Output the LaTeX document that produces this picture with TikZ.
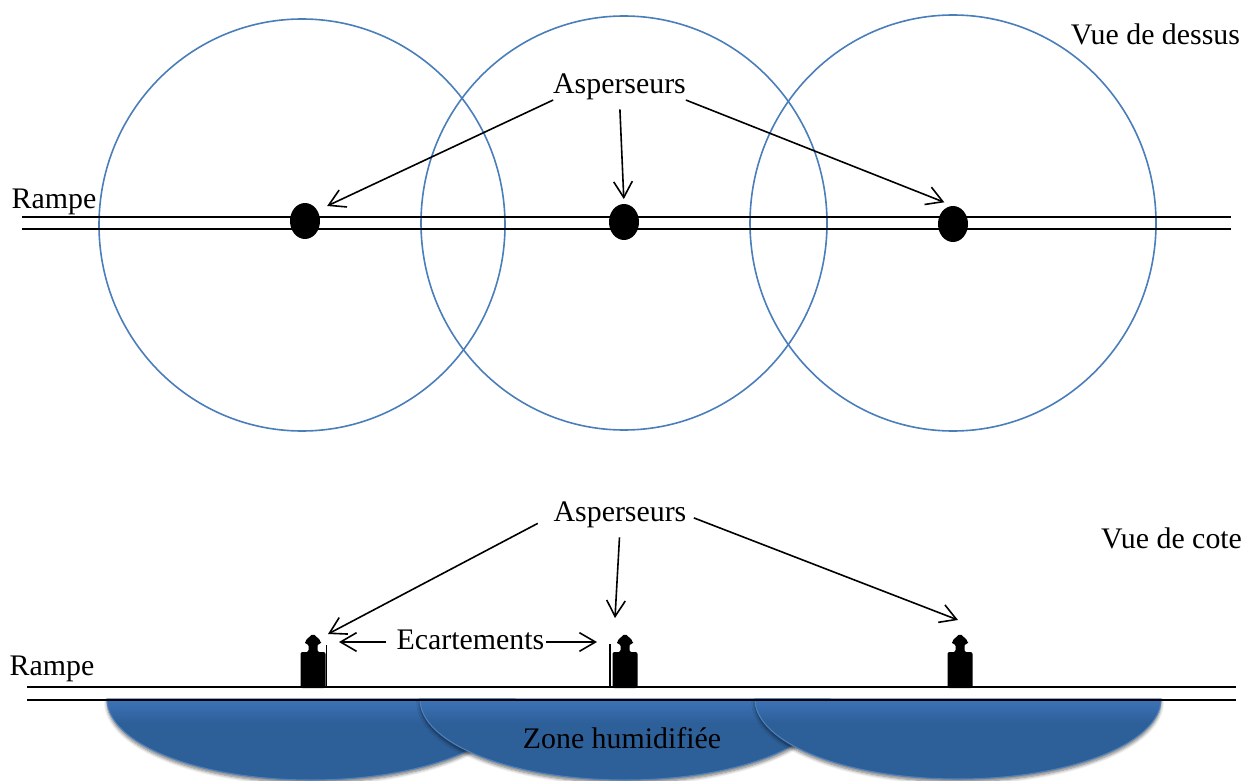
\documentclass[tikz,border=0pt]{standalone}
\usepackage{fontspec}
\setmainfont{Liberation Serif}
\usetikzlibrary{shapes.geometric}
\usetikzlibrary{arrows.meta}
\usetikzlibrary{shadows.blur}

\definecolor{circleblue}{RGB}{74,126,187}
\definecolor{waterlight}{RGB}{61,115,184}
\definecolor{waterdark}{RGB}{45,95,153}
\definecolor{wateredge}{RGB}{79,129,189}

\pgfdeclareverticalshading{watershade}{100bp}{color(0bp)=(waterdark); color(60bp)=(waterdark); color(75bp)=(waterlight); color(100bp)=(waterlight)}

\tikzset{
  label/.style={font=\fontsize{22.4}{26}\selectfont, inner sep=0pt, outer sep=0pt},
  ramp/.style={line width=1.3pt},
  wetted/.style={draw=circleblue, line width=1.2pt},
  nozzle/.style={ellipse, fill=black, inner sep=0pt, minimum width=22.5pt, minimum height=27pt},
  pointer/.style={line width=1.2pt, -{Straight Barb[length=12pt,width=14pt,line width=1.2pt]}},
  water/.style={shading=watershade, draw=wateredge, line width=0.8pt,
    blur shadow={shadow xshift=0pt, shadow yshift=-2pt, shadow blur radius=2.5pt, shadow blur steps=6, shadow opacity=55}},
}

\newcommand{\sprinkler}[1]{%
  \fill [shift={(#1)}, rounded corners=1.5pt] (-12.5,0) -- (-12.5,-36) -- (-4.5,-36) -- (-4.5,-44) -- (-8,-44) -- (-8,-47) -- (0,-54.5) -- (8,-47) -- (8,-44) -- (4.5,-44) -- (4.5,-36) -- (12.5,-36) -- (12.5,0) -- cycle ;
}

\begin{document}
\begin{tikzpicture}[x=0.75pt,y=0.75pt,yscale=-1,xscale=1]
\useasboundingbox (0,0) rectangle (1242,781);

%Top view: circles
\draw [wetted] (302,225) ellipse [x radius=203, y radius=206];
\draw [wetted] (624,223) ellipse [x radius=203, y radius=207];
\draw [wetted] (953,223) ellipse [x radius=203, y radius=208];

%Top view: pipe
\coordinate (topAL) at (22,217);
\coordinate (topAR) at (1231,217);
\coordinate (topBL) at (22,229);
\coordinate (topBR) at (1231,229);
\draw [ramp] (topAL) -- (topAR) ;
\draw [ramp] (topBL) -- (topBR) ;

\node [nozzle] (dot1) at (305,221) {};
\node [nozzle] (dot2) at (624,222) {};
\node [nozzle] (dot3) at (953,224) {};

% Text Node
\node [label] (asp1) at (619.5,87) {Asperseurs};
\node [label] (rampe1) at (54,202) {Rampe};
\node [label, anchor=east] (dessus) at (1240,34) {Vue de dessus};

\draw [pointer, shorten >=8pt] (asp1.south west) -- (dot1.40) ;
\draw [pointer, shorten <=7pt, shorten >=3.5pt] (asp1.south) -- (dot2.north) ;
\draw [pointer, shorten >=7pt] (asp1.south east) -- (dot3.north) ;

%Side view: wetted zones
\draw [water] (107,699) arc [start angle=180, end angle=0, x radius=204, y radius=81] -- cycle ;
\draw [water] (420,699) arc [start angle=180, end angle=0, x radius=205, y radius=81] -- cycle ;
\draw [water] (755,699) arc [start angle=180, end angle=0, x radius=203, y radius=80] -- cycle ;

%Side view: pipe
\coordinate (sideAL) at (27,687);
\coordinate (sideAR) at (1236,687);
\coordinate (sideBL) at (27,700);
\coordinate (sideBR) at (1236,700);
\draw [ramp] (sideAL) -- (sideAR) ;
\draw [ramp] (sideBL) -- (sideBR) ;

%Side view: sprinklers
\coordinate (spr1) at (313,688);
\coordinate (spr2) at (625,688);
\coordinate (spr3) at (960,688);
\sprinkler{spr1}
\sprinkler{spr2}
\sprinkler{spr3}

%Spacing marks
\coordinate (markAtop) at (326.5,645);
\coordinate (markAbot) at (326.5,687);
\coordinate (markBtop) at (610,644);
\coordinate (markBbot) at (610,687);
\draw [line width=1pt] (markAtop) -- (markAbot) ;
\draw [line width=1pt] (markBtop) -- (markBbot) ;

% Text Node
\node [label] (asp2) at (620,515) {Asperseurs};
\node [label] (rampe2) at (52,669) {Rampe};
\node [label, anchor=east] (cote) at (1242,538) {Vue de cote};
\node [label] (ecart) at (470.5,640) {Ecartements};
\node [label] (zone) at (622,738) {Zone humidifiée};

\coordinate (tipA) at (328,634);
\coordinate (tipB) at (615,618);
\coordinate (tipC) at (958,620);
\coordinate (tipD) at (339,642);
\coordinate (tipE) at (597,642);

\draw [pointer, shorten <=13.5pt] (asp2.west) -- (tipA) ;
\draw [pointer, shorten <=7pt] (asp2.south) -- (tipB) ;
\draw [pointer, shorten <=6pt] (asp2.east) -- (tipC) ;
\draw [pointer, shorten <=8pt] (ecart.west |- tipD) -- (tipD) ;
\draw [pointer, shorten <=1.5pt] (ecart.east |- tipE) -- (tipE) ;

\end{tikzpicture}
\end{document}
